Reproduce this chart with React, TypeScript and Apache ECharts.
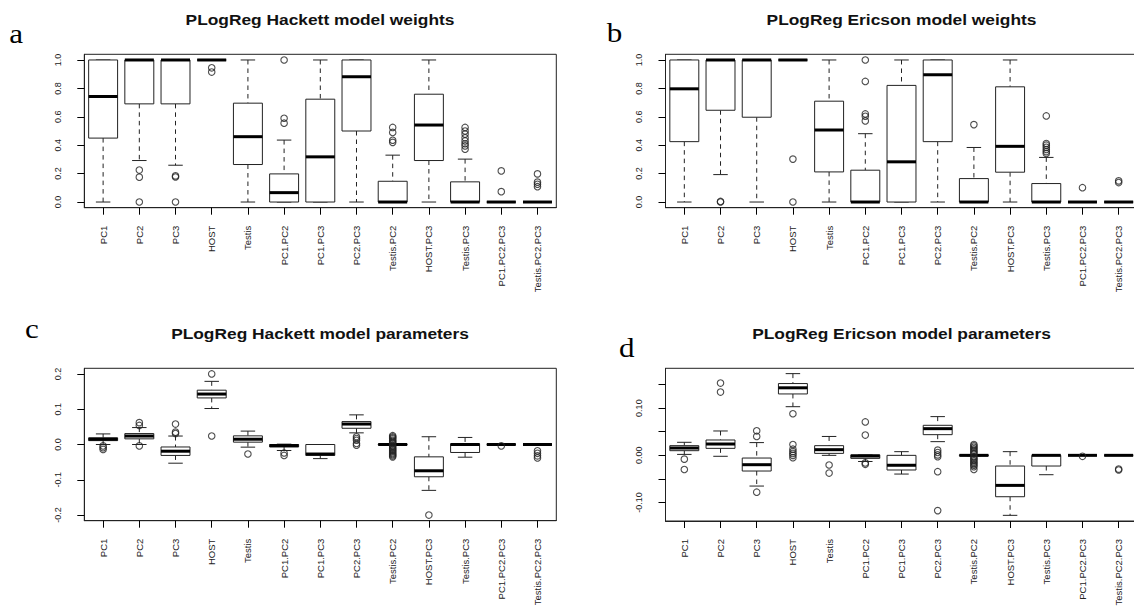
import React, { useEffect, useRef } from "react";
import * as echarts from "echarts";

const categories = [
  "PC1", "PC2", "PC3", "HOST", "Testis", "PC1.PC2", "PC1.PC3", "PC2.PC3",
  "Testis.PC2", "HOST.PC3", "Testis.PC3", "PC1.PC2.PC3", "Testis.PC2.PC3",
];

const titles = [
  "PLogReg Hackett model weights",
  "PLogReg Ericson model weights",
  "PLogReg Hackett model parameters",
  "PLogReg Ericson model parameters",
];
const panelLetters = ["a", "b", "c", "d"];

// each row: [lower whisker, Q1, median, Q3, upper whisker]
const hackettWeightBoxes = [
  [0, 0.45, 0.743, 1, 1],
  [0.292, 0.691, 1, 1, 1],
  [0.259, 0.691, 1, 1, 1],
  [1, 1, 1, 1, 1],
  [0, 0.264, 0.46, 0.696, 1],
  [0, 0, 0.066, 0.198, 0.436],
  [0, 0, 0.318, 0.724, 1],
  [0, 0.5, 0.882, 1, 1],
  [0, 0, 0, 0.146, 0.33],
  [0, 0.292, 0.542, 0.759, 1],
  [0, 0, 0, 0.142, 0.302],
  [0, 0, 0, 0, 0],
  [0, 0, 0, 0, 0],
];
// [category index, value]
const hackettWeightOutliers = [
  [1, 0.225], [1, 0.175], [1, 0],
  [2, 0.184], [2, 0.176], [2, 0],
  [3, 0.945], [3, 0.915],
  [5, 1], [5, 0.59], [5, 0.555],
  [8, 0.525], [8, 0.49], [8, 0.435], [8, 0.42],
  [10, 0.525], [10, 0.5], [10, 0.478], [10, 0.452], [10, 0.43], [10, 0.41], [10, 0.395], [10, 0.372],
  [11, 0.219], [11, 0.073],
  [12, 0.198], [12, 0.14], [12, 0.125], [12, 0.108],
];

const ericsonWeightBoxes = [
  [0, 0.425, 0.797, 1, 1],
  [0.193, 0.646, 1, 1, 1],
  [0, 0.597, 1, 1, 1],
  [1, 1, 1, 1, 1],
  [0, 0.212, 0.507, 0.71, 1],
  [0, 0, 0, 0.224, 0.481],
  [0, 0, 0.283, 0.821, 1],
  [0, 0.425, 0.896, 1, 1],
  [0, 0, 0, 0.165, 0.384],
  [0, 0.21, 0.392, 0.811, 1],
  [0, 0, 0, 0.13, 0.314],
  [0, 0, 0, 0, 0],
  [0, 0, 0, 0, 0],
];
const ericsonWeightOutliers = [
  [1, 0], [1, 0.004],
  [3, 0.302], [3, 0],
  [5, 1], [5, 0.849], [5, 0.62], [5, 0.604], [5, 0.571],
  [8, 0.545],
  [10, 0.606], [10, 0.412], [10, 0.4], [10, 0.385], [10, 0.37], [10, 0.355], [10, 0.342],
  [11, 0.101],
  [12, 0.149], [12, 0.137],
];

const hackettParamBoxes = [
  [0.0, 0.011, 0.015, 0.019, 0.03],
  [0.0, 0.016, 0.024, 0.031, 0.048],
  [-0.053, -0.031, -0.019, -0.007, 0.024],
  [0.102, 0.132, 0.143, 0.154, 0.179],
  [-0.0075, 0.0066, 0.015, 0.0245, 0.038],
  [-0.017, -0.007, -0.003, 0.0, 0.001],
  [-0.04, -0.031, -0.027, 0, 0],
  [0.033, 0.046, 0.058, 0.065, 0.084],
  [-0.001, -0.001, 0, 0.001, 0.001],
  [-0.13, -0.0915, -0.0745, -0.035, 0.022],
  [-0.036, -0.0226, 0, 0.002, 0.02],
  [0, 0, 0, 0, 0],
  [0, 0, 0, 0, 0],
];
const hackettParamOutliers = [
  [0, -0.004], [0, -0.009], [0, -0.014],
  [1, 0.062], [1, 0.054], [1, -0.004],
  [2, 0.058], [2, 0.035], [2, 0.031],
  [3, 0.2], [3, 0.024],
  [4, -0.027],
  [5, -0.024], [5, -0.031],
  [7, 0.022], [7, 0.017], [7, 0.012], [7, 0.003], [7, -0.002],
  [8, 0.025], [8, 0.022], [8, 0.019], [8, 0.016], [8, 0.012], [8, 0.009], [8, 0.006], [8, 0.003],
  [8, -0.003], [8, -0.006], [8, -0.01], [8, -0.013], [8, -0.016], [8, -0.019], [8, -0.023],
  [8, -0.026], [8, -0.029], [8, -0.032], [8, -0.035],
  [9, -0.2],
  [11, -0.004],
  [12, -0.018], [12, -0.025], [12, -0.032], [12, -0.038],
];

const ericsonParamBoxes = [
  [0.002, 0.0099, 0.0155, 0.0205, 0.0276],
  [-0.002, 0.0148, 0.024, 0.0325, 0.0516],
  [-0.065, -0.0332, -0.0198, -0.0057, 0.027],
  [0.103, 0.13, 0.143, 0.152, 0.173],
  [0, 0.0042, 0.012, 0.0205, 0.04],
  [-0.013, -0.0064, -0.0014, 0.001, 0.001],
  [-0.0396, -0.031, -0.021, 0, 0.0078],
  [0.029, 0.0438, 0.0565, 0.0636, 0.082],
  [-0.001, -0.001, 0, 0.001, 0.001],
  [-0.127, -0.0876, -0.0636, -0.0226, 0.0078],
  [-0.041, -0.0226, 0, 0, 0],
  [0, 0, 0, 0, 0],
  [0, 0, 0, 0, 0],
];
const ericsonParamOutliers = [
  [0, -0.008], [0, -0.03],
  [1, 0.153], [1, 0.134],
  [2, 0.052], [2, 0.04], [2, -0.078],
  [3, 0.088], [3, 0.023], [3, 0.013], [3, 0.008], [3, 0.004], [3, 0], [3, -0.005],
  [4, -0.0205], [4, -0.0375],
  [5, 0.0707], [5, 0.043], [5, -0.016], [5, -0.019],
  [7, 0.011], [7, 0.006], [7, 0.001], [7, -0.003], [7, -0.0346], [7, -0.117],
  [8, 0.023], [8, 0.02], [8, 0.017], [8, 0.014], [8, 0.011], [8, 0.008], [8, 0.005], [8, 0.003],
  [8, -0.003], [8, -0.006], [8, -0.009], [8, -0.012], [8, -0.015], [8, -0.018], [8, -0.021],
  [8, -0.024], [8, -0.03],
  [11, -0.002],
  [12, -0.029], [12, -0.031],
];

const weightTicks = [0, 0.2, 0.4, 0.6, 0.8, 1.0];
const hackettParamTicks = [-0.2, -0.1, 0, 0.1, 0.2];
const ericsonParamTicks = [-0.1, -0.05, 0, 0.05, 0.1, 0.15];
const ericsonParamLabels = [-0.1, 0, 0.1];

const FONT = '"Liberation Sans", Arial, Helvetica, sans-serif';
const SERIF = '"Liberation Serif", "Times New Roman", serif';
const INK = "#222";

const renderBox = (params: any, api: any) => {
  const x = api.value(0);
  const vals = [1, 2, 3, 4, 5].map((i) => api.value(i));
  const pts = vals.map((v: number) => api.coord([x, v]));
  const cx = pts[0][0];
  const bw = api.size([0.8, 0])[0];
  const [yLo, yQ1, yMed, yQ3, yHi] = pts.map((p: number[]) => p[1]);
  const children: any[] = [];
  if (yLo - yQ1 > 0.5) {
    children.push({ type: "line", shape: { x1: cx, y1: yQ1, x2: cx, y2: yLo }, style: { stroke: INK, lineWidth: 1, lineDash: [4.5, 4] } });
  }
  if (yQ3 - yHi > 0.5) {
    children.push({ type: "line", shape: { x1: cx, y1: yHi, x2: cx, y2: yQ3 }, style: { stroke: INK, lineWidth: 1, lineDash: [4.5, 4] } });
  }
  children.push({ type: "line", shape: { x1: cx - bw / 4, y1: yLo, x2: cx + bw / 4, y2: yLo }, style: { stroke: INK, lineWidth: 1 } });
  children.push({ type: "line", shape: { x1: cx - bw / 4, y1: yHi, x2: cx + bw / 4, y2: yHi }, style: { stroke: INK, lineWidth: 1 } });
  children.push({ type: "rect", shape: { x: cx - bw / 2, y: yQ3, width: bw, height: yQ1 - yQ3 }, style: { fill: "#fff", stroke: INK, lineWidth: 1 } });
  children.push({ type: "line", shape: { x1: cx - bw / 2, y1: yMed, x2: cx + bw / 2, y2: yMed }, style: { stroke: "#000", lineWidth: 3 } });
  return { type: "group", children };
};

const panels = [
  { boxes: hackettWeightBoxes, outliers: hackettWeightOutliers, min: -0.04, max: 1.04, ticks: weightTicks, labels: weightTicks, digits: 1,
    grid: { left: 84.3, top: 54.3, width: 472, height: 153.4 }, title: [320, 19.5], letter: [9.3, 34] },
  { boxes: ericsonWeightBoxes, outliers: ericsonWeightOutliers, min: -0.04, max: 1.04, ticks: weightTicks, labels: weightTicks, digits: 1,
    grid: { left: 665.5, top: 54.3, width: 472, height: 153.4 }, title: [901.5, 19.5], letter: [606.7, 32.6] },
  { boxes: hackettParamBoxes, outliers: hackettParamOutliers, min: -0.216, max: 0.216, ticks: hackettParamTicks, labels: hackettParamTicks, digits: 1,
    grid: { left: 84.3, top: 368.3, width: 472, height: 152.4 }, title: [320, 333], letter: [25, 329] },
  { boxes: ericsonParamBoxes, outliers: ericsonParamOutliers, min: -0.139, max: 0.1843, ticks: ericsonParamTicks, labels: ericsonParamLabels, digits: 2,
    grid: { left: 665.5, top: 368.3, width: 472, height: 152.7 }, title: [901.5, 333], letter: [619, 348] },
];

const catIdx = categories.map((_, i) => i);

export default function App() {
  const ref = useRef<HTMLDivElement>(null);
  useEffect(() => {
    if (!ref.current) return;
    const chart = echarts.init(ref.current, undefined, { renderer: "svg" });
    const grid: any[] = [];
    const xAxis: any[] = [];
    const yAxis: any[] = [];
    const series: any[] = [];
    const graphic: any[] = [];
    panels.forEach((p, k) => {
      grid.push({ ...p.grid, show: true, borderColor: INK, borderWidth: 1, backgroundColor: "transparent", containLabel: false, outerBoundsMode: "none" });
      xAxis.push({
        type: "value", gridIndex: k, min: -0.52, max: 12.52, position: "bottom",
        axisLine: { show: true, onZero: false, lineStyle: { color: INK, width: 1 } }, splitLine: { show: false },
        axisTick: { show: true, inside: false, length: 7, customValues: catIdx, lineStyle: { color: "#000", width: 1 } },
        axisLabel: {
          customValues: catIdx, formatter: (v: number) => categories[Math.round(v)] ?? "",
          rotate: 90, fontSize: 9.5, fontFamily: FONT, color: INK, margin: 18,
        },
      });
      yAxis.push({
        type: "value", gridIndex: k, min: p.min, max: p.max, position: "left",
        axisLine: { show: true, onZero: false, lineStyle: { color: INK, width: 1 } }, splitLine: { show: false },
        axisTick: { show: true, inside: false, length: 7, customValues: p.ticks, lineStyle: { color: "#000", width: 1 } },
        axisLabel: {
          customValues: p.labels, formatter: (v: number) => v.toFixed(p.digits),
          rotate: 90, fontSize: 9, fontFamily: FONT, color: INK, margin: 22,
        },
      });
      series.push({
        type: "custom", xAxisIndex: k, yAxisIndex: k,
        data: p.boxes.map((b, i) => [i, ...b]),
        encode: { x: 0, y: [1, 2, 3, 4, 5] },
        renderItem: renderBox, silent: true,
      });
      series.push({
        type: "scatter", xAxisIndex: k, yAxisIndex: k,
        data: p.outliers, symbol: "circle", symbolSize: 6.5,
        itemStyle: { color: "transparent", borderColor: INK, borderWidth: 1.1 }, silent: true,
      });
      graphic.push({
        type: "text", x: p.title[0], y: p.title[1], scaleX: 1.12,
        style: { text: titles[k], font: `bold 15.5px ${FONT}`, textAlign: "center", textVerticalAlign: "middle", fill: "#111" },
      });
      graphic.push({
        type: "text", x: p.letter[0], y: p.letter[1], scaleX: 1.15,
        style: { text: panelLetters[k], font: `27px ${SERIF}`, textAlign: "left", textVerticalAlign: "middle", fill: "#000" },
      });
    });
    chart.setOption({
      animation: false,
      backgroundColor: "#fff",
      textStyle: { fontFamily: FONT },
      grid, xAxis, yAxis, series, graphic,
    });
    return () => chart.dispose();
  }, []);
  return <div ref={ref} style={{ position: "absolute", left: 0, top: 0, width: 1134, height: 614 }} />;
}
